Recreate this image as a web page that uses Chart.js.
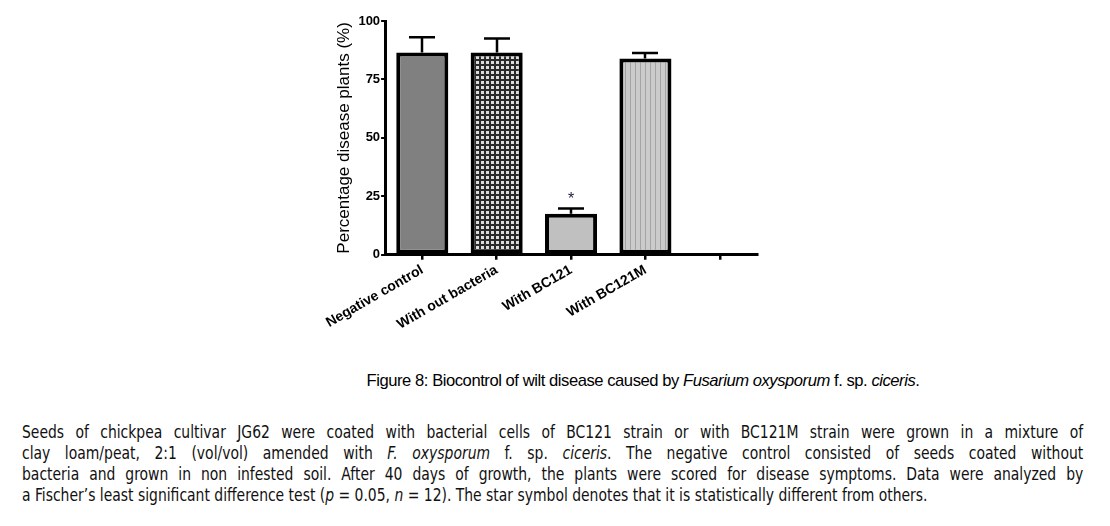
<!DOCTYPE html>
<html>
<head>
<meta charset="utf-8">
<script src="https://cdn.jsdelivr.net/npm/chart.js@4/dist/chart.umd.min.js"></script>
<style>
  body { margin: 0; background: #fff; width: 1110px; height: 526px; position: relative; overflow: hidden; }
  #wrap { position: absolute; left: 0; top: 0; width: 1110px; height: 345px; }
  #caption { position: absolute; left: 176px; top: 371px; width: 934px; text-align: center; letter-spacing: -0.45px;
    font-family: Arial, "Liberation Sans", sans-serif; font-size: 16.6px; color: #000; }
  #notes { position: absolute; left: 22px; top: 421px; width: 1234px; transform: scaleX(0.86); transform-origin: 0 0;
    font-family: "Liberation Sans Narrow", "DejaVu Sans Condensed", sans-serif; font-size: 18px; line-height: 21px; color: #111; }
  #notes div { text-align: justify; text-align-last: justify; white-space: nowrap; }
  #notes div.last { text-align-last: left; }
</style>
</head>
<body>
<div id="wrap"><canvas id="chart"></canvas></div>
<div id="caption">Figure 8: Biocontrol of wilt disease caused by <i>Fusarium oxysporum</i> f. sp. <i>ciceris</i>.</div>
<div id="notes">
  <div>Seeds of chickpea cultivar JG62 were coated with bacterial cells of BC121 strain or with BC121M strain were grown in a mixture of</div>
  <div>clay loam/peat, 2:1 (vol/vol) amended with <i>F. oxysporum</i> f. sp. <i>ciceris</i>. The negative control consisted of seeds coated without</div>
  <div>bacteria and grown in non infested soil. After 40 days of growth, the plants were scored for disease symptoms. Data were analyzed by</div>
  <div class="last">a Fischer’s least significant difference test (<i>p</i> = 0.05, <i>n</i> = 12). The star symbol denotes that it is statistically different from others.</div>
</div>
<script>
// datos
const categories = ['Negative control', 'With out bacteria', 'With BC121', 'With BC121M', ''];
const values = [86.5, 86.5, 17.5, 84, null];
const errors = [6.5, 6, 2.3, 2.3, null];
const marks = ['', '', '*', '', ''];
const yTicks = [0, 25, 50, 75, 100];

// rellenos con patron
function checkerPattern() {
    const c = document.createElement('canvas');
    c.width = 5; c.height = 5;
    const g = c.getContext('2d');
    g.fillStyle = '#2a2a2a';
    g.fillRect(0, 0, 5, 5);
    g.fillStyle = '#dcdcdc';
    g.fillRect(1, 1, 3, 3);
    return g.createPattern(c, 'repeat');
}
function stripePattern() {
    const c = document.createElement('canvas');
    c.width = 5; c.height = 5;
    const g = c.getContext('2d');
    g.fillStyle = '#cbcbcb';
    g.fillRect(0, 0, 5, 5);
    g.fillStyle = '#a4a4a4';
    g.fillRect(0, 0, 1, 5);
    return g.createPattern(c, 'repeat');
}

const fills = ['#808080', checkerPattern(), '#c0c0c0', stripePattern(), '#fff'];

// barras de error y asteriscos
const errorBars = {
    id: 'errorBars',
    afterDatasetsDraw(chart) {
        const ctx = chart.ctx;
        const y = chart.scales.y;
        const meta = chart.getDatasetMeta(0);
        ctx.save();
        ctx.strokeStyle = '#000';
        ctx.lineWidth = 2.5;
        meta.data.forEach((bar, i) => {
            if (values[i] == null) return;
            const x = Math.round(bar.x);
            const top = y.getPixelForValue(values[i]);
            const hi = y.getPixelForValue(values[i] + errors[i]);
            ctx.beginPath();
            ctx.moveTo(x, top);
            ctx.lineTo(x, hi);
            ctx.moveTo(x - 13, hi);
            ctx.lineTo(x + 13, hi);
            ctx.stroke();
            if (marks[i]) {
                ctx.fillStyle = '#1a1a40';
                ctx.font = '16px Arial';
                ctx.textAlign = 'center';
                ctx.textBaseline = 'bottom';
                ctx.fillText(marks[i], x, hi - 1);
            }
        });
        ctx.restore();
    }
};

const ctx = document.getElementById('chart').getContext('2d');
new Chart(ctx, {
    type: 'bar',
    data: {
        labels: categories,
        datasets: [{
            data: values,
            backgroundColor: fills,
            borderColor: '#000',
            borderWidth: 4,
            borderSkipped: false,
            barPercentage: 0.7,
            categoryPercentage: 1
        }]
    },
    options: {
        responsive: true,
        maintainAspectRatio: false,
        animation: false,
        layout: { padding: { left: 334, right: 353, top: 21, bottom: 10 } },
        plugins: { legend: { display: false }, tooltip: { enabled: false } },
        scales: {
            x: {
                grid: { display: true, offset: false, drawOnChartArea: false, drawTicks: true, tickLength: 5, tickColor: '#000', lineWidth: 2.5 },
                border: { color: '#000', width: 3 },
                ticks: {
                    color: '#000',
                    font: { family: 'Arial', size: 14, weight: 'bold' },
                    maxRotation: 30, minRotation: 30,
                    padding: 2
                }
            },
            y: {
                min: 0, max: 100,
                afterBuildTicks(axis) { axis.ticks = yTicks.map(v => ({ value: v })); },
                grid: { drawOnChartArea: false, drawTicks: true, tickLength: 4, tickColor: '#000', lineWidth: 2 },
                border: { color: '#000', width: 3 },
                ticks: {
                    color: '#000',
                    font: { family: 'Arial', size: 13, weight: 'bold' },
                    padding: 1
                },
                title: {
                    display: true,
                    text: 'Percentage disease plants (%)',
                    color: '#000',
                    font: { family: 'Arial', size: 17 },
                    padding: { top: 0, bottom: 3 }
                }
            }
        }
    },
    plugins: [errorBars]
});
</script>
</body>
</html>
